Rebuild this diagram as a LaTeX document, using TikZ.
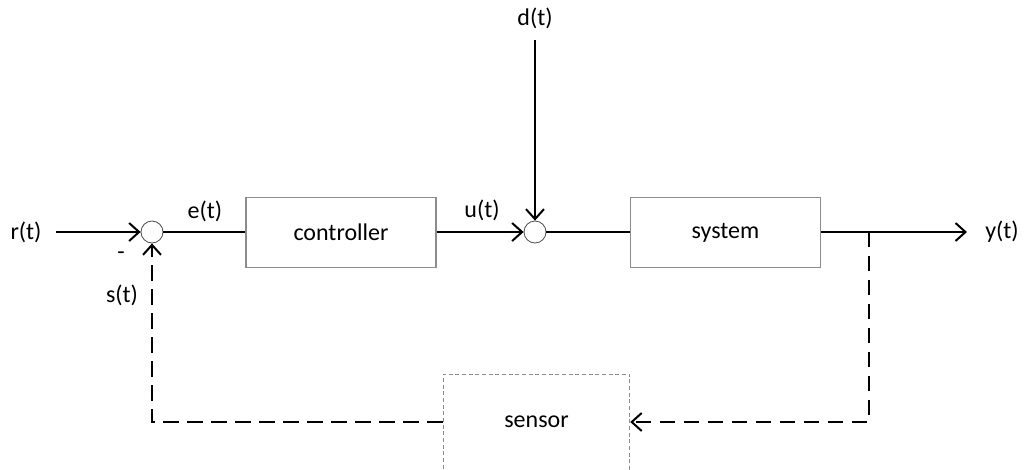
\documentclass[tikz,border=0pt]{standalone}
\usepackage{fontspec}
\setmainfont{Carlito}
\usetikzlibrary{arrows.meta}
\begin{document}
\begin{tikzpicture}[x=0.75pt,y=-0.75pt,
  every node/.style={font=\fontsize{18}{21}\selectfont},
  sumnode/.style={circle,draw=black!70,line width=0.6pt,minimum size=16.5pt,inner sep=0pt},
  blockbox/.style={rectangle,draw=black!45,line width=0.8pt,minimum width=142.5pt,minimum height=52.5pt},
  sensorbox/.style={rectangle,draw=black!45,line width=0.6pt,dash pattern=on 3pt off 2pt,minimum width=140pt,minimum height=72pt},
  sig/.style={line width=1.5pt},
  tip/.style={-{Straight Barb[length=7.5pt,width=13.5pt,line width=1.5pt]}},
  sigarrow/.style={sig,tip},
  fb/.style={sig,dash pattern=on 11.5pt off 6.5pt},
  fbarrow/.style={fb,tip},
  lbl/.style={inner sep=0pt}]
\useasboundingbox (0,0) rectangle (1026,469);
\begin{scope}
\clip (0,0) rectangle (1026,469);
% blocks and summing junctions
\node[sumnode] (s1) at (152,232) {};
\node[sumnode] (s2) at (535,232) {};
\node[blockbox] (ctrl) at (341,232.5) {controller};
\node[blockbox] (sys) at (725.5,232.5) {system};
\node[sensorbox] (sens) at (536.5,422) {sensor};
% signal labels
\node[lbl] (r) at (26,232) {r(t)};
\node[lbl] (yl) at (1002,232) {y(t)};
\node[lbl] (dl) at (535,18) {d(t)};
\node[lbl] (el) at (205,211) {e(t)};
\node[lbl] (ul) at (482,210) {u(t)};
\node[lbl] (minus) at (121,256) {-};
\node[lbl] (sl) at (122,295) {s(t)};
\coordinate (rin) at (56,232);
\coordinate (dtop) at (535,40);
\coordinate (br) at (869,232);
\coordinate (yout) at (967,232);
% forward path
\draw[sigarrow] (rin) -- (s1.west);
\draw[sig] (s1.east) -- (ctrl.west |- s1.east);
\draw[sigarrow] (ctrl.east |- s2.west) -- (s2.west);
\draw[sigarrow] (dtop) -- (s2.north);
\draw[sig] (s2.east) -- (sys.west |- s2.east);
\draw[sigarrow] (sys.east |- br) -- (yout);
% feedback path
\draw[fbarrow] (br) |- (sens.east);
\draw[fbarrow] (sens.west) -| (s1.south);
\end{scope}
\end{tikzpicture}
\end{document}
